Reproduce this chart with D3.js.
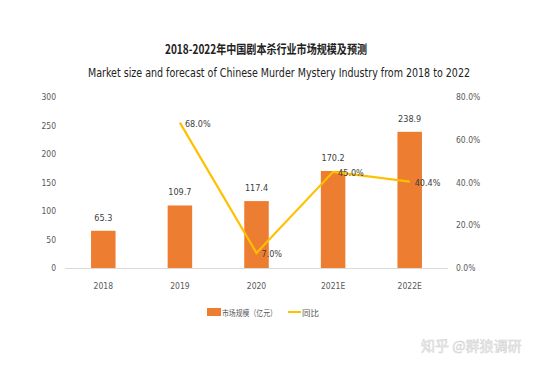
<!DOCTYPE html>
<html><head><meta charset="utf-8">
<script src="https://cdn.jsdelivr.net/npm/d3@7"></script>
<style>body{margin:0;background:#fff}svg{display:block}.n{font-stretch:condensed}</style>
</head><body><svg id="c" width="554" height="369"></svg>
<script>
const categories = ["2018","2019","2020","2021E","2022E"];
const marketSize = [65.3,109.7,117.4,170.2,238.9];
const growth = [null,68.0,7.0,45.0,40.4];
const leftTicks = [0,50,100,150,200,250,300];
const rightTicks = [0,20,40,60,80];

const svg = d3.select("#c");
const narrow = "'Liberation Sans Narrow','DejaVu Sans Condensed','DejaVu Sans',sans-serif";
const x = d3.scaleBand().domain(categories).range([65,448]).paddingInner(0.68).paddingOuter(0.34);
const yL = d3.scaleLinear().domain([0,300]).range([268,97]);
const yR = d3.scaleLinear().domain([0,80]).range([268,97]);

svg.append("text").attr("x",266).attr("y",54).attr("text-anchor","middle")
  .attr("font-family","'Noto Sans CJK SC',sans-serif").attr("font-weight","bold")
  .attr("font-size",12.5).attr("fill","#222").attr("textLength",202).attr("lengthAdjust","spacingAndGlyphs")
  .text("2018-2022年中国剧本杀行业市场规模及预测");
svg.append("text").attr("class","n").attr("x",279).attr("y",77).attr("text-anchor","middle")
  .attr("font-family",narrow).attr("font-size",11.5).attr("fill","#222")
  .attr("textLength",382).attr("lengthAdjust","spacingAndGlyphs")
  .text("Market size and forecast of Chinese Murder Mystery Industry from 2018 to 2022");

svg.append("line").attr("x1",65).attr("x2",448).attr("y1",268.5).attr("y2",268.5).attr("stroke","#d9d9d9");

const axL = svg.append("g").attr("transform","translate(56,0)")
  .call(d3.axisLeft(yL).tickValues(leftTicks).tickSize(0).tickPadding(0).tickFormat(d3.format("d")));
axL.select(".domain").remove();
axL.selectAll("text").attr("class","n").attr("font-family",narrow).attr("font-size",8.5).attr("fill","#595959");

const axR = svg.append("g").attr("transform","translate(456,0)")
  .call(d3.axisRight(yR).tickValues(rightTicks).tickSize(0).tickPadding(0).tickFormat(d=>d.toFixed(1)+"%"));
axR.select(".domain").remove();
axR.selectAll("text").attr("class","n").attr("font-family",narrow).attr("font-size",8.5).attr("fill","#595959");

const axB = svg.append("g").attr("transform","translate(0,268)")
  .call(d3.axisBottom(x).tickSize(0).tickPadding(15));
axB.select(".domain").remove();
axB.selectAll("text").attr("class","n").attr("font-family",narrow).attr("font-size",8.5).attr("fill","#595959");

svg.selectAll("rect.bar").data(marketSize).enter().append("rect").attr("class","bar")
  .attr("x",(d,i)=>x(categories[i])).attr("width",x.bandwidth())
  .attr("y",d=>yL(d)).attr("height",d=>268-yL(d)).attr("fill","#ED7D31");

svg.selectAll("text.bl").data(marketSize).enter().append("text").attr("class","bl n")
  .attr("x",(d,i)=>x(categories[i])+x.bandwidth()/2).attr("y",d=>yL(d)-10)
  .attr("text-anchor","middle").attr("font-family",narrow).attr("font-size",9).attr("fill","#404040")
  .text(d=>d.toFixed(1));

const pts = growth.map((g,i)=>({c:categories[i],g})).filter(d=>d.g!==null);
const line = d3.line().x(d=>x(d.c)+x.bandwidth()/2).y(d=>yR(d.g));
svg.append("path").datum(pts).attr("d",line).attr("fill","none").attr("stroke","#FFC000").attr("stroke-width",2.2);

svg.selectAll("text.gl").data(pts).enter().append("text").attr("class","gl n")
  .attr("x",d=>x(d.c)+x.bandwidth()/2+5).attr("y",d=>yR(d.g)+4)
  .attr("font-family",narrow).attr("font-size",9).attr("fill","#404040")
  .text(d=>d.g.toFixed(1)+"%");

const lg = svg.append("g");
lg.append("rect").attr("x",207).attr("y",308).attr("width",14).attr("height",8).attr("fill","#ED7D31");
lg.append("text").attr("x",222).attr("y",315.5).attr("font-family","'Noto Sans CJK SC',sans-serif").attr("font-size",8.5)
  .attr("fill","#595959").attr("textLength",55).attr("lengthAdjust","spacingAndGlyphs").text("市场规模（亿元）");
lg.append("line").attr("x1",288).attr("x2",301).attr("y1",312).attr("y2",312).attr("stroke","#FFC000").attr("stroke-width",2);
lg.append("text").attr("x",302).attr("y",315.5).attr("font-family","'Noto Sans CJK SC',sans-serif").attr("font-size",8.5)
  .attr("fill","#595959").text("同比");

svg.append("text").attr("x",421).attr("y",351).attr("font-family","'Noto Sans CJK SC',sans-serif").attr("font-size",14)
  .attr("fill","#f6f6f6").attr("stroke","#cfcfcf").attr("stroke-width",0.5).text("知乎 @群狼调研");
</script></body></html>
